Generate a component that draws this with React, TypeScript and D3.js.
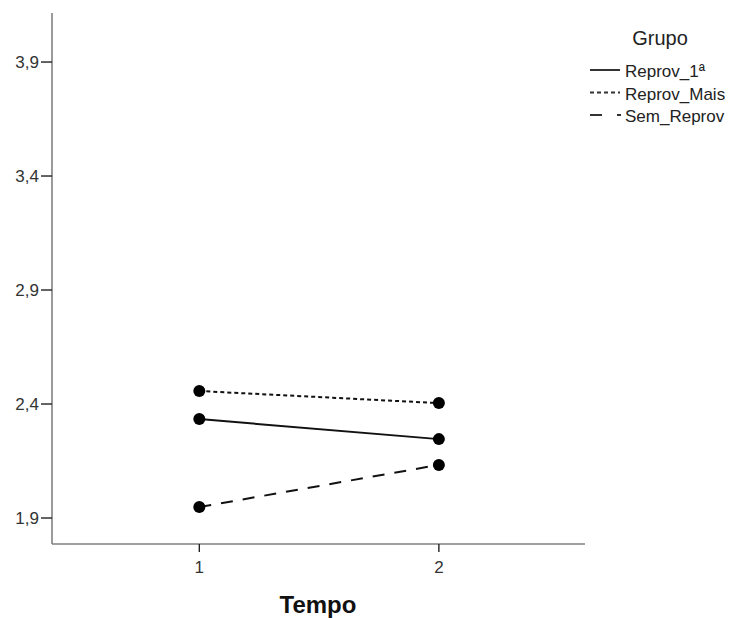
import React from "react";
import * as d3 from "d3";

const tempos = [1, 2];
const seriesNames = ["Reprov_1ª", "Reprov_Mais", "Sem_Reprov"];
const reprov1 = [2.334, 2.246];
const reprovMais = [2.457, 2.404];
const semReprov = [1.948, 2.133];
const yTicks = [1.9, 2.4, 2.9, 3.4, 3.9];

const dashes: Record<string, string | undefined> = {
  "Reprov_1ª": undefined,
  "Reprov_Mais": "4,3",
  "Sem_Reprov": "12,10",
};

export default function App() {
  const width = 731;
  const height = 618;
  const left = 52;
  const right = 585;
  const top = 13;
  const bottom = 544;

  const x = d3.scaleLinear().domain([0.385, 2.61]).range([left, right]);
  const y = d3.scaleLinear().domain([1.786, 4.115]).range([bottom, top]);

  const series = [
    { name: seriesNames[0], values: reprov1 },
    { name: seriesNames[1], values: reprovMais },
    { name: seriesNames[2], values: semReprov },
  ];

  const line = d3
    .line<number>()
    .x((_, i) => x(tempos[i]))
    .y((d) => y(d));

  const fmt = (v: number) => v.toFixed(1).replace(".", ",");
  const font = "'Liberation Sans', Arial, sans-serif";

  return (
    <svg
      width={width}
      height={height}
      style={{ position: "absolute", left: 0, top: 0, background: "white" }}
      fontFamily={font}
    >
      {/* axes */}
      <line x1={left} x2={left} y1={top} y2={bottom} stroke="#808080" strokeWidth={1.6} />
      <line x1={left} x2={right} y1={bottom} y2={bottom} stroke="#808080" strokeWidth={1.6} />
      {yTicks.map((t) => (
        <g key={t}>
          <line x1={left - 11} x2={left} y1={y(t)} y2={y(t)} stroke="#222" strokeWidth={1.4} />
          <text x={left - 13} y={y(t) + 6} textAnchor="end" fontSize={17} fill="#333">
            {fmt(t)}
          </text>
        </g>
      ))}
      {tempos.map((t) => (
        <g key={t}>
          <line x1={x(t)} x2={x(t)} y1={bottom} y2={bottom + 8} stroke="#222" strokeWidth={1.4} />
          <text x={x(t)} y={bottom + 29} textAnchor="middle" fontSize={17} fill="#333">
            {t}
          </text>
        </g>
      ))}
      <text x={318} y={613} textAnchor="middle" fontSize={24} fontWeight="bold" fill="#111">
        Tempo
      </text>

      {/* lines */}
      {series.map((s) => (
        <g key={s.name}>
          <path
            d={line(s.values) || ""}
            fill="none"
            stroke="#111"
            strokeWidth={2}
            strokeDasharray={dashes[s.name]}
          />
          {s.values.map((v, i) => (
            <circle key={i} cx={x(tempos[i])} cy={y(v)} r={6} fill="#000" />
          ))}
        </g>
      ))}

      {/* legend */}
      <text x={660} y={45} textAnchor="middle" fontSize={20} fill="#222">
        Grupo
      </text>
      {series.map((s, i) => {
        const ly = 70 + i * 22.5;
        return (
          <g key={s.name}>
            <line
              x1={590}
              x2={620}
              y1={ly}
              y2={ly}
              stroke="#333"
              strokeWidth={2}
              strokeDasharray={s.name === "Sem_Reprov" ? "12,27" : dashes[s.name]}
            />
            {s.name === "Sem_Reprov" && (
              <line x1={617} x2={621} y1={ly} y2={ly} stroke="#333" strokeWidth={2} />
            )}
            <text x={625} y={ly + 7} fontSize={17} fill="#222">
              {s.name}
            </text>
          </g>
        );
      })}
    </svg>
  );
}
